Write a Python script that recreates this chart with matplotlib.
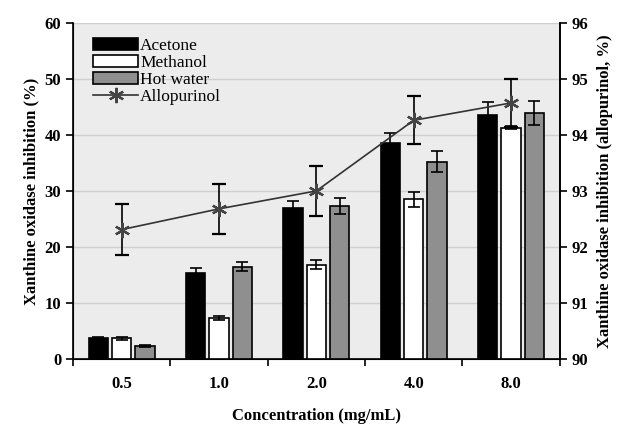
import numpy as np
import matplotlib.pyplot as plt
from matplotlib.lines import Line2D

concentrations = ['0.5', '1.0', '2.0', '4.0', '8.0']
acetone = [3.7, 15.4, 26.9, 38.6, 43.6]
acetone_err = [0.3, 0.9, 1.3, 1.8, 2.2]
methanol = [3.7, 7.3, 16.8, 28.5, 41.3]
methanol_err = [0.3, 0.3, 0.8, 1.3, 0.3]
hot_water = [2.3, 16.5, 27.3, 35.2, 43.9]
hot_water_err = [0.2, 0.8, 1.5, 1.9, 2.2]
allopurinol = [92.31, 92.68, 93.0, 94.26, 94.57]
allopurinol_err = [0.45, 0.45, 0.44, 0.43, 0.43]

plt.rcParams['font.family'] = ['Liberation Serif', 'DejaVu Serif']

fig = plt.figure(figsize=(6.24, 4.30), dpi=100)
ax = fig.add_axes([0.117, 0.165, 0.78, 0.782])
ax.set_facecolor('#ececec')

x = np.arange(len(concentrations))
w = 0.2
step = 0.24
err_kw = dict(ecolor='black', elinewidth=1.2, capsize=4, capthick=1.2)

ax.bar(x - step, acetone, w, yerr=acetone_err, color='black', edgecolor='black',
       linewidth=1.2, label='Acetone', error_kw=err_kw, zorder=3)
ax.bar(x, methanol, w, yerr=methanol_err, color='white', edgecolor='black',
       linewidth=1.2, label='Methanol', error_kw=err_kw, zorder=3)
ax.bar(x + step, hot_water, w, yerr=hot_water_err, color='#8f8f8f', edgecolor='black',
       linewidth=1.2, label='Hot water', error_kw=err_kw, zorder=3)

ax.set_xlim(-0.5, len(concentrations) - 0.5)
ax.set_ylim(0, 60)
ax.set_yticks(range(0, 61, 10))
ax.set_xticks(np.arange(-0.5, len(concentrations), 1.0))
ax.set_xticklabels([])
ax.set_xticks(x, minor=True)
ax.set_xticklabels(concentrations, minor=True)
ax.tick_params(axis='x', which='minor', length=0, pad=12)
ax.tick_params(axis='x', which='major', length=5, width=1.2)
ax.tick_params(axis='y', length=5, width=1.2)
ax.grid(axis='y', color='#cfcfcf', linewidth=1, zorder=0)
ax.set_axisbelow(True)
ax.spines['top'].set_visible(False)
for s in ['left', 'bottom', 'right']:
    ax.spines[s].set_linewidth(1.2)

ax2 = ax.twinx()
marker_style = dict(marker=(6, 2, 0), markersize=11, markeredgewidth=1.6,
                    markeredgecolor='#444444')
ax2.errorbar(x, allopurinol, yerr=allopurinol_err, color='#333333', linewidth=1.2,
             ecolor='black', elinewidth=1.2, capsize=5, capthick=1.2, zorder=4,
             **marker_style)
ax2.set_ylim(90, 96)
ax2.set_yticks(range(90, 97))
ax2.tick_params(axis='y', length=5, width=1.2)
ax2.spines['top'].set_visible(False)
ax2.spines['right'].set_linewidth(1.2)

for lab in ax.get_yticklabels() + ax2.get_yticklabels() + ax.get_xticklabels(minor=True):
    lab.set_fontweight('bold')
    lab.set_fontsize(12)

ax.set_xlabel('Concentration (mg/mL)', fontsize=12, fontweight='bold', labelpad=12)
ax.set_ylabel('Xanthine oxidase inhibition (%)', fontsize=12, fontweight='bold')
ax2.set_ylabel('Xanthine oxidase inhibition (allopurinol, %)', fontsize=12,
               fontweight='bold', labelpad=6)

h1, l1 = ax.get_legend_handles_labels()
allo_handle = Line2D([], [], color='#333333', linewidth=1.2, **marker_style)
ax2.legend(h1 + [allo_handle], l1 + ['Allopurinol'], loc='upper left',
           bbox_to_anchor=(0.02, 0.985), frameon=False, fontsize=12.5,
           handlelength=2.6, handleheight=0.7, labelspacing=0.05,
           handletextpad=0.1, borderaxespad=0.2)

fig.savefig('out.png', dpi=100)
